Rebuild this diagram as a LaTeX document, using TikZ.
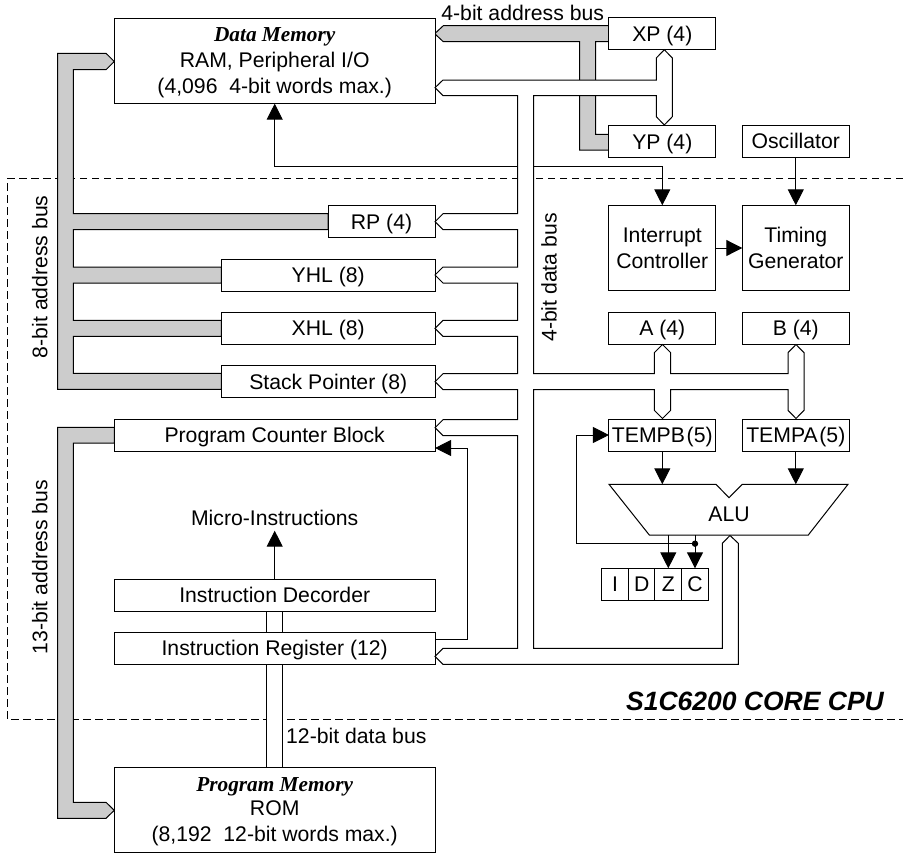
\documentclass[tikz,border=0pt]{standalone}
\usepackage{fontspec}
\setmainfont{Liberation Sans}
\newfontfamily\timesfont{Liberation Serif}
\usetikzlibrary{arrows.meta,calc}
\definecolor{busgrey}{HTML}{CCCCCC}
\tikzset{
  every node/.style={font=\fontsize{21.2}{25.5}\selectfont, inner sep=0pt, outer sep=0pt},
  box/.style={draw=black, fill=white, line width=1pt, align=center, text height=15.2pt, text depth=0pt},
  lbl/.style={anchor=base},
  arr/.style={line width=1pt, -{Triangle[width=16pt,length=16pt]}},
  wire/.style={line width=1pt, draw=black},
  greybus/.style={line width=1pt, draw=black, fill=busgrey, line join=miter},
  whitebus/.style={line width=1pt, draw=black, fill=white, line join=miter},
  cpuedge/.style={line width=1pt, draw=black, dash pattern=on 7.5pt off 4.5pt}
}
\newcommand{\memhead}[1]{{\timesfont\fontsize{21.3}{25.5}\selectfont\bfseries\itshape #1}}
\begin{document}
\begin{tikzpicture}[x=1pt,y=-1pt]
\useasboundingbox (0,0) rectangle (903,855);

% CPU boundary
\coordinate (cpuTR) at (903,178.3);
\coordinate (cpuTL) at (7.7,178.3);
\coordinate (cpuBL) at (7.7,719.7);
\coordinate (cpuBR) at (903,719.7);
\draw[cpuedge] (cpuTR) -- (cpuTL) -- (cpuBL) -- (cpuBR);

% control line feeding Data Memory and Interrupt Controller (passes under the data bus)
\coordinate (ctrl) at (525,166);

% Grey address buses
\draw[greybus] (114.3,61.5) -- (106,69.7) -- (73.3,69.7) -- (73.3,213.7) -- (328,213.7) -- (328,229.7)
  -- (73.3,229.7) -- (73.3,267) -- (221.3,267) -- (221.3,283) -- (73.3,283) -- (73.3,320.3)
  -- (221.3,320.3) -- (221.3,336.3) -- (73.3,336.3) -- (73.3,373.3) -- (221.3,373.3) -- (221.3,389.3)
  -- (57.7,389.3) -- (57.7,53.3) -- (106,53.3) -- cycle;
\draw[greybus] (114.3,427.3) -- (57.7,427.3) -- (57.7,818.3) -- (106,818.3) -- (114.3,810.3)
  -- (106,802.3) -- (73.3,802.3) -- (73.3,443) -- (114.3,443) -- cycle;
\draw[greybus] (609,25.7) -- (443.3,25.7) -- (434.7,33.7) -- (443.3,41.7) -- (579.7,41.7) -- (579.7,150)
  -- (609,150) -- (609,134.3) -- (595.7,134.3) -- (595.7,41.7) -- (609,41.7) -- cycle;

% 12-bit data bus
\draw[whitebus] (266,605) rectangle (282,770);

% Boxes
\node[box, minimum width=320.7pt, minimum height=85.3pt] (dm) at (274.7,61) {};
\node[lbl] (dmT) at (274.7,41.7) {\memhead{Data Memory}};
\node[lbl] (dmA) at (274.7,67.3) {RAM, Peripheral I/O};
\node[lbl] (dmB) at (274.7,93) {(4,096~~4-bit words max.)};

\node[box, minimum width=106.7pt, minimum height=32pt] (xp) at (662.3,33.5) {XP (4)};
\node[box, minimum width=106.7pt, minimum height=32pt] (yp) at (662.3,141.5) {YP (4)};
\node[box, minimum width=107pt, minimum height=32pt] (osc) at (795.8,141.3) {Oscillator};

\node[box, minimum width=107pt, minimum height=32pt] (rp) at (381.5,221.7) {RP (4)};
\node[box, minimum width=213.7pt, minimum height=32pt] (yhl) at (328.2,275) {YHL (8)};
\node[box, minimum width=213.7pt, minimum height=32pt] (xhl) at (328.2,328.3) {XHL (8)};
\node[box, minimum width=213.7pt, minimum height=32pt] (sp) at (328.2,381.7) {Stack Pointer (8)};
\node[box, minimum width=320.7pt, minimum height=32pt] (pc) at (274.7,435) {Program Counter Block};
\node[box, minimum width=320.7pt, minimum height=32pt] (dec) at (274.7,595.2) {Instruction Decorder};
\node[box, minimum width=320.7pt, minimum height=32pt] (ir) at (274.7,648.3) {Instruction Register (12)};
\node[lbl] (micro) at (274.7,525) {Micro-Instructions};
\coordinate (microTip) at (274.7,530.7);

\node[box, minimum width=320.7pt, minimum height=85.3pt] (pm) at (274.7,809.7) {};
\node[lbl] (pmT) at (274.7,791.7) {\memhead{Program Memory}};
\node[lbl] (pmA) at (274.7,815.7) {ROM};
\node[lbl] (pmB) at (274.7,841.3) {(8,192~~12-bit words max.)};

\node[box, minimum width=106.7pt, minimum height=85.4pt] (ic) at (662.3,248) {};
\node[lbl] (ic1) at (662.3,242.7) {Interrupt};
\node[lbl] (ic2) at (662.3,268.3) {Controller};
\node[box, minimum width=107pt, minimum height=85.4pt] (tg) at (795.8,248) {};
\node[lbl] (tg1) at (795.8,242.7) {Timing};
\node[lbl] (tg2) at (795.8,268.3) {Generator};
\node[box, minimum width=106.7pt, minimum height=32pt] (a) at (662.3,328.3) {A (4)};
\node[box, minimum width=107pt, minimum height=32pt] (b) at (795.8,328.3) {B (4)};
\node[box, minimum width=106.7pt, minimum height=32pt] (tempb) at (662.3,435) {TEMPB\hspace{0.08em}(5)};
\node[box, minimum width=107pt, minimum height=32pt] (tempa) at (795.8,435) {TEMPA\hspace{0.08em}(5)};

% ALU
\coordinate (aluT) at (729,484.3);
\coordinate (aluB) at (729,535);
\draw[wire, fill=white, line join=miter] (609,484.3) -- (716,484.3) -- (729,497.7) -- (742.3,484.3)
  -- (848,484.3) -- (808.3,535) -- (649.3,535) -- cycle;
\node[lbl] (alu) at (729,521.7) {ALU};

% Flags
\node[box, minimum width=26.7pt, minimum height=32pt] (fi) at (615,584.3) {I};
\node[box, minimum width=26.7pt, minimum height=32pt] (fd) at (641.7,584.3) {D};
\node[box, minimum width=26.7pt, minimum height=32pt] (fz) at (668.3,584.3) {Z};
\node[box, minimum width=26.7pt, minimum height=32pt] (fc) at (695,584.3) {C};

% Arrows
\draw[arr] (ctrl) -| (dm.south);
\draw[arr] (ctrl) -| (ic.north);
\draw[arr] (osc) -- (tg);
\draw[arr] (ic) -- (tg);
\draw[arr] (dec.north) -- (microTip);
\draw[arr] (tempb.south) -- (tempb.south |- aluT);
\draw[arr] (tempa.south) -- (tempa.south |- aluT);
\draw[arr] (fz.north |- aluB) -- (fz.north);
\draw[arr] (fc.north |- aluB) -- (fc.north);
\coordinate (fb) at (695,543.7);
\coordinate (fbx) at (576.7,500);
\fill (fb) circle (3.2);
\draw[arr] (fb) -- (fb -| fbx) |- (tempb.west);
\coordinate (irx) at (467.7,600);
\draw[arr] (ir.east |- 0,639) -| (irx) |- (pc.east |- 0,448);

% 4-bit data bus (covers lines beneath it)
\draw[whitebus] (435,87.7) -- (443,80) -- (656.3,80) -- (656.3,58) -- (664.3,49.7) -- (672.3,58)
  -- (672.3,116.7) -- (664.3,125) -- (656.3,116.7) -- (656.3,95.7) -- (533.7,95.7)
  -- (533.7,373.7) -- (654.3,373.7) -- (654.3,352.7) -- (662.5,344.5) -- (670.7,352.7) -- (670.7,373.7)
  -- (788,373.7) -- (788,352.7) -- (796,344.5) -- (804,352.7) -- (804,410.3) -- (796,418.5) -- (788,410.3)
  -- (788,389.7) -- (670.7,389.7) -- (670.7,410.3) -- (662.5,418.5) -- (654.3,410.3) -- (654.3,389.7)
  -- (533.7,389.7) -- (533.7,648.3) -- (722.3,648.3) -- (722.3,543.3) -- (730,535.5) -- (738.3,543.3)
  -- (738.3,664.3) -- (443,664.3) -- (435,656.3) -- (443,648.3) -- (517.7,648.3)
  -- (517.7,435.7) -- (443,435.7) -- (435,427.7) -- (443,419.7) -- (517.7,419.7)
  -- (517.7,389.7) -- (443,389.7) -- (435,381.7) -- (443,373.7) -- (517.7,373.7)
  -- (517.7,336.3) -- (443,336.3) -- (435,328.3) -- (443,320.3) -- (517.7,320.3)
  -- (517.7,283) -- (443,283) -- (435,275) -- (443,267) -- (517.7,267)
  -- (517.7,229.7) -- (443,229.7) -- (435,221.7) -- (443,213.7) -- (517.7,213.7)
  -- (517.7,95.7) -- (443,95.7) -- cycle;

% Bus labels
\node[lbl] (l4a) at (522.7,20.7) {4-bit address bus};
\node[lbl, rotate=90] (l8a) at (47.3,276.7) {8-bit address bus};
\node[lbl, rotate=90] (l13a) at (47.3,567) {13-bit address bus};
\node[lbl, rotate=90] (l4d) at (556.5,277.5) {4-bit data bus};
\node[lbl] (l12d) at (356.3,743.3) {12-bit data bus};
\node[lbl] (core) at (755,710.7) {\fontsize{26.5}{30}\selectfont\bfseries\itshape S1C6200 CORE CPU};
\end{tikzpicture}
\end{document}
